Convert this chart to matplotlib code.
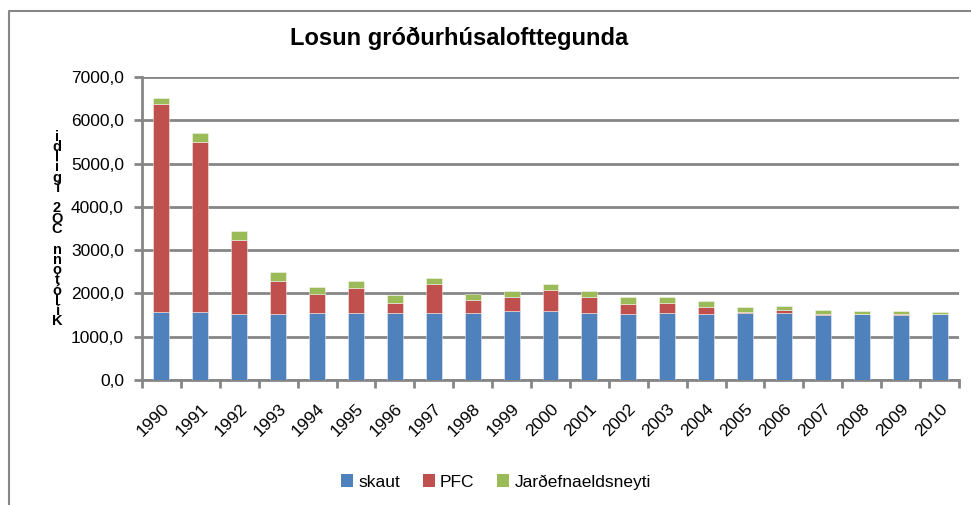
import numpy as np
import matplotlib
matplotlib.use("Agg")
import matplotlib.pyplot as plt
from matplotlib.lines import Line2D
from matplotlib.patches import Patch
from matplotlib.ticker import FuncFormatter, FixedLocator

# values (kt CO2 equivalent)
years = [str(y) for y in range(1990, 2011)]
skaut = [1580, 1580, 1520, 1520, 1545, 1545, 1545, 1545, 1545, 1585,
         1585, 1545, 1520, 1545, 1520, 1555, 1555, 1495, 1515, 1495, 1515]
pfc = [4790, 3920, 1715, 770, 445, 570, 240, 680, 310, 330,
       500, 370, 230, 240, 165, 25, 60, 25, 5, 25, 5]
jardefna = [140, 200, 210, 210, 160, 175, 170, 130, 130, 140,
            140, 140, 170, 130, 130, 110, 100, 100, 70, 70, 60]

series_names = ["skaut", "PFC", "Jarðefnaeldsneyti"]
KOLORS = ["#4F81BD", "#C0504D", "#9BBB59"]
GRID = "#868686"
FONT = "Liberation Sans"

plt.rcParams['font.family'] = [FONT, 'DejaVu Sans']

fig = plt.figure(figsize=(9.71, 5.05), dpi=100)
ax = fig.add_axes([142 / 971, 1 - 380 / 505, (959 - 142) / 971, (380 - 77) / 505])

x = np.arange(len(years))
bottom = np.zeros(len(years))
for vals, kol in zip([skaut, pfc, jardefna], KOLORS):
    ax.bar(x, vals, width=0.41, bottom=bottom, color=kol,
           edgecolor=(1, 1, 1, 0.5), linewidth=0.6, zorder=3)
    bottom += np.array(vals)

ax.set_xlim(-0.5, len(years) - 0.5)
ax.set_ylim(0, 7000)
ax.set_yticks(np.arange(0, 7001, 1000))
ax.yaxis.set_major_formatter(FuncFormatter(lambda v, p: f"{v:.1f}".replace(".", ",")))
ax.yaxis.grid(True, color=GRID, lw=2, zorder=1)
ax.set_axisbelow(True)

ax.set_xticks(x)
ax.set_xticklabels(years, rotation=45, ha='right', rotation_mode='anchor')
ax.xaxis.set_minor_locator(FixedLocator(np.arange(-0.5, len(years), 1)))
ax.tick_params(axis='x', which='major', length=0, pad=15, labelsize=12.5)
ax.tick_params(axis='x', which='minor', length=6, width=2, color=GRID)
ax.tick_params(axis='y', length=6, width=2, color=GRID, labelsize=12.5, pad=7)

for s in ['top', 'right']:
    ax.spines[s].set_visible(False)
for s in ['left', 'bottom']:
    ax.spines[s].set_color(GRID)
    ax.spines[s].set_linewidth(2)

fig.text(459 / 971, 1 - 38 / 505, "Losun gróðurhúsalofttegunda",
         ha='center', va='center', fontsize=17, fontweight='bold')

# stacked, squashed y label like in the original export (one text object)
ylab = "Kílótonn CO2 ígildi"
fig.text(57 / 971, 1 - 229 / 505, "\n".join(reversed(ylab)), ha='center', va='center',
         fontsize=10.5, fontweight='bold', linespacing=0.66)

handles = [Patch(facecolor=k, edgecolor='none') for k in KOLORS]
fig.legend(handles, series_names, loc='center', bbox_to_anchor=(496 / 971, 1 - 482 / 505),
           ncol=3, frameon=False, fontsize=12.5, handlelength=0.7, handleheight=0.7,
           handletextpad=0.3, columnspacing=1.3)

# chart frame (cut off at right and bottom)
fig.add_artist(Line2D([9 / 971, 9 / 971, 1.0], [0.0, 1 - 11 / 505, 1 - 11 / 505],
                      transform=fig.transFigure, color=GRID, lw=1.5))

fig.savefig("out.png", dpi=100)
